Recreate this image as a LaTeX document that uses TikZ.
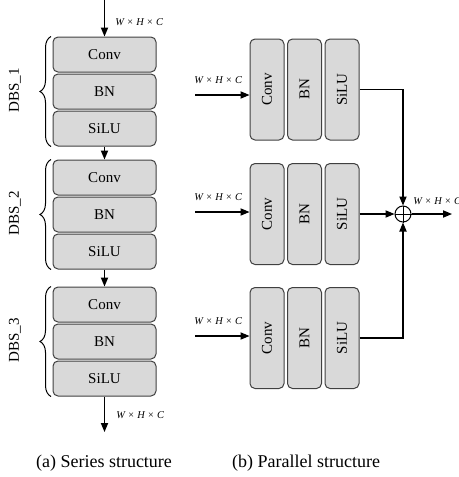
\documentclass[tikz,border=0pt]{standalone}
\usepackage{fontspec}
\setmainfont{Liberation Serif}
\usetikzlibrary{arrows.meta,positioning,decorations.pathreplacing}
\tikzset{
    block color/.style={fill=black!15, draw=black!75},
    block/.style={block color, rounded corners=2.5pt, inner sep=0pt, line width=.5pt, font=\fontsize{7.5}{9}\selectfont},
    hblock/.style={block, minimum width=51.5pt, minimum height=17.5pt},
    vblock/.style={block, minimum width=17pt, minimum height=50.5pt},
    arr/.style={-{Triangle[length=4.5pt,width=3.6pt]}, line width=.6pt},
    size label/.style={font=\fontsize{5.2}{6.2}\selectfont\itshape, inner sep=0pt, anchor=west},
    group brace/.style={decorate, decoration={brace, amplitude=5.5pt}, line width=.5pt},
    caption/.style={font=\fontsize{9}{11}\selectfont},
}
\newcommand{\whc}{W × H × C}

\begin{document}
\begin{tikzpicture}[x=.5pt,y=-.5pt]
    \useasboundingbox (0,0) rectangle (459,477);

    % (a) series structure
    \foreach \i/\ytop in {1/37,2/160,3/287}{
        \node[hblock] (sconv\i) at (104.5,\ytop+17.5) {Conv};
        \node[hblock, below=.5pt of sconv\i] (sbn\i) {BN};
        \node[hblock, below=.5pt of sbn\i] (ssilu\i) {SiLU};
        \draw[group brace] ([xshift=-.75pt]ssilu\i.south west) -- ([xshift=-.75pt]sconv\i.north west);
        \node[rotate=90, font=\fontsize{7.5}{9}\selectfont] (sdbs\i) at (15,\ytop+53.5) {DBS\_\i};
    }
    \coordinate (sin) at (104.5,0);
    \coordinate (sout) at (104.5,432);
    \draw[arr] (sin) -- (sconv1.north);
    \draw[arr] (ssilu1.south) -- (sconv2.north);
    \draw[arr] (ssilu2.south) -- (sconv3.north);
    \draw[arr] (ssilu3.south) -- (sout);
    \node[size label] (sinlabel) at (115,22) {\whc};
    \node[size label] (soutlabel) at (116,415) {\whc};

    % (b) parallel structure
    \foreach \i/\yc/\yin in {1/89.5/95,2/214/212,3/338/336}{
        \node[vblock] (pconv\i) at (267,\yc) {\rotatebox{90}{Conv}};
        \node[vblock, right=1.25pt of pconv\i] (pbn\i) {\rotatebox{90}{BN}};
        \node[vblock, right=1.25pt of pbn\i] (psilu\i) {\rotatebox{90}{SiLU}};
        \coordinate (pin\i) at (195,\yin);
        \draw[arr] (pin\i) -- (pin\i -| pconv\i.west);
        \node[size label] (pinlabel\i) at (194,\yin-15) {\whc};
    }
    \node[draw, circle, minimum size=8pt, inner sep=0pt, line width=.5pt] (sum) at (403,214) {};
    \draw[line width=.5pt] (sum.north) -- (sum.south) (sum.west) -- (sum.east);
    \draw[arr] (psilu1.east) -| (sum.north);
    \draw[arr] (psilu2.east) -- (sum.west);
    \draw[arr] (psilu3.east) -| (sum.south);
    \coordinate (pout) at (452,214);
    \draw[arr] (sum.east) -- (pout);
    \node[size label] (poutlabel) at (413,201) {\whc};

    % captions
    \node[caption] (capa) at (104,463) {(a) Series structure};
    \node[caption] (capb) at (306,463) {(b) Parallel structure};
\end{tikzpicture}
\end{document}
